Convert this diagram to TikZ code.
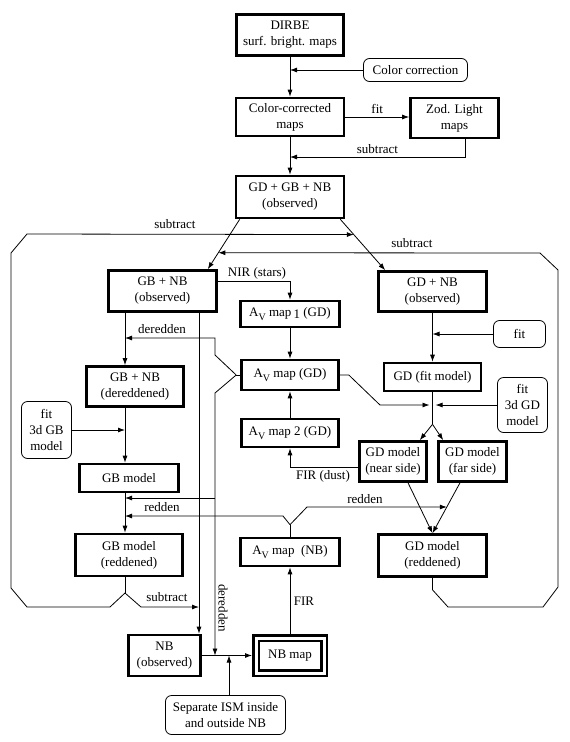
\documentclass[tikz,border=0pt]{standalone}
\usepackage{fontspec}
\setmainfont{Liberation Serif}
\usetikzlibrary{arrows.meta,calc}

\tikzset{
  box/.style={draw, line width=2.6pt, align=center, inner sep=2pt},
  note/.style={draw, line width=0.8pt, rounded corners=6pt, align=center, inner sep=2pt},
  ln/.style={line width=0.8pt},
  arr/.style={line width=0.8pt, -{Latex[length=7pt,width=5pt]}},
  lbl/.style={inner sep=1pt}
}
\newcommand{\Av}{A\raisebox{-3.5pt}{\fontsize{10}{10}\selectfont V}}

\begin{document}
\begin{tikzpicture}[x=1pt,y=-1pt,font=\fontsize{13}{16}\selectfont]
\useasboundingbox (0,0) rectangle (570,742);
% main column
\node[box,minimum width=107pt,minimum height=41pt] (dirbe) at (290,35) {DIRBE\\surf. bright. maps};
\node[note,minimum width=104pt,minimum height=23pt] (colcor) at (415.5,70) {Color correction};
\node[box,minimum width=108pt,minimum height=38pt] (ccmaps) at (290,117) {Color-corrected\\maps};
\node[box,minimum width=88pt,minimum height=40pt] (zodi) at (454.5,118) {Zod. Light\\maps};
\node[box,minimum width=108pt,minimum height=42pt] (obsall) at (290,197) {GD + GB + NB\\(observed)};
% GB side
\node[box,minimum width=108pt,minimum height=41pt] (gbnbobs) at (162.5,291) {GB + NB\\(observed)};
\node[box,minimum width=97pt,minimum height=40pt] (gbnbder) at (135,386.5) {GB + NB\\(dereddened)};
\node[note,minimum width=50pt,minimum height=57pt] (fitgb) at (46.5,430) {fit\\3d GB\\model};
\node[box,minimum width=99pt,minimum height=28pt] (gbmodel) at (129,478) {GB model};
\node[box,minimum width=107pt,minimum height=42pt] (gbred) at (129,555) {GB model\\(reddened)};
% extinction maps
\node[box,minimum width=99pt,minimum height=26pt] (av1) at (290,314) {\Av\ map\,\raisebox{-1.5pt}{1} (GD)};
\node[box,minimum width=97pt,minimum height=30pt] (avgd) at (290,375) {\Av\ map (GD)};
\node[box,minimum width=97pt,minimum height=28pt] (av2) at (290,433) {\Av\ map 2 (GD)};
\node[box,minimum width=99pt,minimum height=28pt] (avnb) at (290,552) {\Av\ map\ \ (NB)};
% GD side
\node[box,minimum width=108pt,minimum height=40pt] (gdnbobs) at (432.5,291.5) {GD + NB\\(observed)};
\node[note,minimum width=52pt,minimum height=27pt] (fitgd1) at (519.5,334) {fit};
\node[box,minimum width=97pt,minimum height=28pt] (gdfit) at (432.5,377) {GD (fit model)};
\node[note,minimum width=50pt,minimum height=55pt] (fitgd3) at (522.5,405) {fit\\3d GD\\model};
\node[box,minimum width=67pt,minimum height=40pt] (gdnear) at (393,461.5) {GD model\\(near side)};
\node[box,minimum width=68pt,minimum height=40pt] (gdfar) at (472.5,461.5) {GD model\\(far side)};
\node[box,minimum width=108pt,minimum height=42pt] (gdred) at (432.5,555.5) {GD model\\(reddened)};
% NB
\node[box,minimum width=72pt,minimum height=41pt] (nbobs) at (164.5,655.5) {NB\\(observed)};
\node[box,double,double distance=3pt,line width=2.5pt,minimum width=68pt,minimum height=35pt,outer sep=4pt] (nbmap) at (290,655.5) {NB map};
\node[note,minimum width=120pt,minimum height=39pt] (ism) at (225.5,715) {Separate ISM inside\\and outside NB};

% helper coordinates
\coordinate (gbcol) at (125,0);
\coordinate (nbcol) at (199,0);
\coordinate (gdin) at (432.5,405);
\coordinate (gbder) at (125,338);
\coordinate (redgd) at (215,498);
\coordinate (gbred1) at (125,498);
\coordinate (gbred2) at (125,516);
\coordinate (nbder) at (215,655.5);
\coordinate (zodsub) at (290,157);
\coordinate (nbsub) at (199,607);

% top
\draw[arr] (dirbe.south) -- (ccmaps.north);
\draw[arr] (colcor.west) -- (colcor.west -| dirbe.south);
\draw[arr] (ccmaps.east) -- (ccmaps.east -| zodi.west) node[lbl,midway,above=2pt] (lfit) {fit};
\draw[arr] ([xshift=10.5pt]zodi.south) |- (zodsub) node[lbl,pos=0.75,above=2pt] (lsub1) {subtract};
\draw[arr] (ccmaps.south) -- (obsall.north);
\draw[arr] ([xshift=5pt]obsall.south west) -- coordinate[pos=0.67] (gbsub) ([xshift=-10pt]gbnbobs.north east);
\draw[arr] ([xshift=-5pt]obsall.south east) -- coordinate[pos=0.3] (gdsub) ([xshift=8pt]gdnbobs.north west);

% GB column
\draw[arr] (gbcol |- gbnbobs.south) -- (gbcol |- gbnbder.north);
\draw[arr] (gbcol |- gbnbder.south) -- (gbcol |- gbmodel.north);
\draw[arr] (fitgb.east) -- (fitgb.east -| gbcol);
\draw[arr] (gbcol |- gbmodel.south) -- (gbcol |- gbred.north);
\draw[ln] (gbcol |- gbred.south) -- (125,593) coordinate (gbv);
\draw[arr] (gbv) -- (110,607) -- (27,607) -- (11,588) -- (11,253) -- (27,234) -- (gdsub);
\draw[arr] (gbv) -- (141,607) -- (nbsub);
\node[lbl] (lsub2) at (175,224) {subtract};
\node[lbl] (lsub3) at (167,597) {subtract};

% GD column
\draw[arr] (gdnbobs.south) -- (gdfit.north);
\draw[arr] (fitgd1.west) -- (fitgd1.west -| gdnbobs.south);
\draw[ln] (gdfit.south) -- ++(0,32) coordinate (gdsplit);
\draw[arr] (gdsplit) -- ([xshift=-8pt]gdnear.north east);
\draw[arr] (gdsplit) -- ([xshift=6pt]gdfar.north west);
\draw[arr] (fitgd3.west) -- ([xshift=3pt]gdin);
\draw[arr] ([xshift=15pt]gdnear.south) -- (gdred.north);
\draw[arr] ([xshift=-12.5pt]gdfar.south) -- coordinate[pos=0.48] (gdred2) (gdred.north);
\draw[ln] (gdred.south) -- ++(0,12) coordinate (gdv);
\draw[arr] (gdv) -- (448,607) -- (543,607) -- (558,587) -- (558,270) -- (540,253) -- (gbsub);
\node[lbl] (lsub4) at (412,243) {subtract};

% extinction
\draw[arr] ([yshift=10pt]gbnbobs.east) -| (av1.north);
\node[lbl] (lnir) at (257,273) {NIR (stars)};
\draw[arr] (av1.south) -- (avgd.north);
\draw[arr] (av2.north) -- (avgd.south);
\draw[arr] ([yshift=-5.5pt]gdnear.west) -| (av2.south);
\node[lbl] (lfird) at (323,476) {FIR (dust)};
\draw[ln] (avgd.west) -- ++(-4,0) coordinate (avv);
\draw[arr] (avv) -- (215,355) -- (215,338) -- (gbder);
\node[lbl] (lder1) at (162,329) {deredden};
\draw[arr] (avv) -- (215,393) -- (nbder);
\draw[arr] (redgd) -- (gbred1);
\draw[arr] (avgd.east) -- ++(9,0) -- (380,405) -- ([xshift=-3pt]gdin);
\draw[ln] (avnb.north) -- ++(0,-12) coordinate (nbv);
\draw[arr] (nbv) -- (283,516) -- (gbred2);
\draw[arr] (nbv) -- (307,507) -- (gdred2);
\node[lbl] (lred1) at (162,507) {redden};
\node[lbl] (lred2) at (365,499) {redden};

% NB
\draw[arr] (nbcol |- gbnbobs.south) -- (nbcol |- nbobs.north);
\draw[arr] (nbobs.east) -- (nbmap.west);
\draw[arr] ([xshift=3.5pt]ism.north) -- ([xshift=3.5pt]ism.north |- nbobs.east);
\draw[arr] (nbmap.north) -- (avnb.south);
\node[lbl] (lfir) at (304,601) {FIR};
\node[lbl,rotate=-90] (lder2) at (223,608) {deredden};
\end{tikzpicture}
\end{document}
